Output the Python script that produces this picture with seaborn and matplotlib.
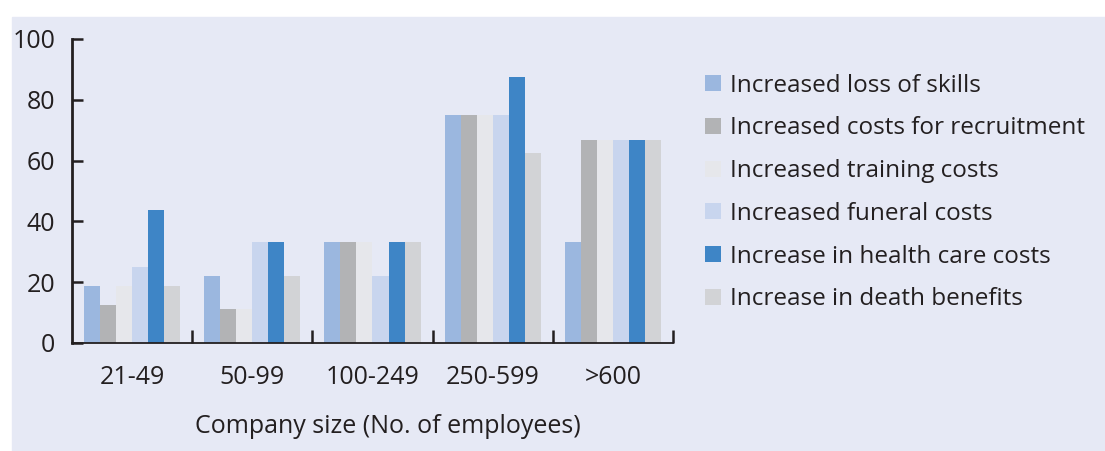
import pandas as pd
import matplotlib
matplotlib.use("Agg")
import matplotlib.pyplot as plt
import seaborn as sns
from matplotlib.patches import Rectangle

# company size groups and the share of companies reporting each effect (%)
sizes = ["21-49", "50-99", "100-249", "250-599", ">600"]
effects = [
    "Increased loss of skills",
    "Increased costs for recruitment",
    "Increased training costs",
    "Increased funeral costs",
    "Increase in health care costs",
    "Increase in death benefits",
]
loss_of_skills = [18.75, 22.2, 33.3, 75.0, 33.3]
recruitment = [12.5, 11.1, 33.3, 75.0, 66.7]
training = [18.75, 11.1, 33.3, 75.0, 66.7]
funeral = [25.0, 33.3, 22.2, 75.0, 66.7]
health_care = [43.75, 33.3, 33.3, 87.5, 66.7]
death_benefits = [18.75, 22.2, 33.3, 62.5, 66.7]

colors = ["#9BB7DF", "#B2B3B5", "#E6E7EB", "#C8D5EE", "#3E85C6", "#D2D3D6"]

rows = []
for effect, vals in zip(effects, [loss_of_skills, recruitment, training,
                                  funeral, health_care, death_benefits]):
    for size, v in zip(sizes, vals):
        rows.append({"Size": size, "Effect": effect, "Value": v})
df = pd.DataFrame(rows)

sns.set_style("white")
plt.rcParams["font.family"] = ["Open Sans", "DejaVu Sans"]
text_col = "#231F20"
bg = "#E6E9F5"

fig = plt.figure(figsize=(11.05, 4.51), dpi=100)
fig.patch.set_facecolor("white")
fig.patches.append(Rectangle((12 / 1105, 0), 1, 1 - 17 / 451,
                             transform=fig.transFigure, color=bg, zorder=-5))

ax = fig.add_axes([72 / 1105, 1 - 343 / 451, (673 - 72) / 1105, (343 - 39) / 451])
ax.set_facecolor(bg)
ax.patch.set_alpha(0)

sns.barplot(data=df, x="Size", y="Value", hue="Effect", order=sizes,
            hue_order=effects, palette=colors, width=0.8, gap=0,
            saturation=1, edgecolor="none", ax=ax)

ax.set_xlim(-0.5, 4.5)
ax.set_ylim(0, 100)
ax.set_yticks([0, 20, 40, 60, 80, 100])
ax.tick_params(axis="y", left=True, direction="in", length=8, width=1.8,
               colors=text_col, labelsize=18, pad=12)
ax.tick_params(axis="x", which="major", bottom=True, length=0, labelsize=18,
               colors=text_col, pad=16)
ax.set_xticks([0.5, 1.5, 2.5, 3.5, 4.5], minor=True)
ax.tick_params(axis="x", which="minor", bottom=True, direction="in",
               length=9.5, width=1.8, color=text_col)

for s in ["top", "right"]:
    ax.spines[s].set_visible(False)
ax.spines["left"].set_linewidth(2)
ax.spines["bottom"].set_linewidth(1.3)
ax.spines["left"].set_color(text_col)
ax.spines["bottom"].set_color(text_col)

ax.set_ylabel("")
ax.set_xlabel("Company size (No. of employees)", fontsize=18,
              color=text_col)
ax.xaxis.set_label_coords(0.525, -0.235)

leg = ax.legend(loc="upper left", bbox_to_anchor=(695 / 1105, 1 - 64 / 451),
                bbox_transform=fig.transFigure, frameon=False,
                fontsize=17.5, handlelength=0.65, handleheight=0.65,
                handletextpad=0.4, labelspacing=0.77, borderaxespad=0)
for t in leg.get_texts():
    t.set_color(text_col)

fig.savefig("out.png", dpi=100, facecolor=fig.get_facecolor())
